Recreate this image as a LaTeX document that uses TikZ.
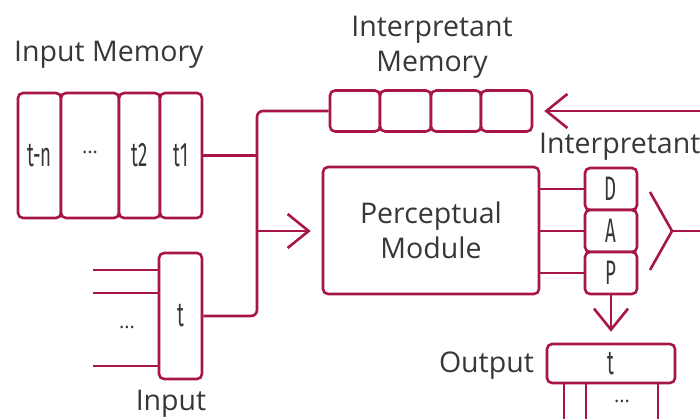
\documentclass[tikz,border=0pt]{standalone}
\usepackage{fontspec}
\setmainfont{Open Sans}
\newfontfamily\cellfont[FakeStretch=0.55]{Fira Sans}
\usetikzlibrary{arrows.meta}

\definecolor{wine}{RGB}{168,22,72}
\definecolor{ink}{RGB}{55,55,55}

\begin{document}
\begin{tikzpicture}[x=1pt,y=-1pt,
  cell/.style={draw=wine, line width=2.6pt, rounded corners=5pt, inner sep=0pt,
    fill=white, font=\cellfont\fontsize{34}{34}\selectfont, text=ink},
  dots/.style={font=\fontsize{20}{20}\selectfont, text=ink, inner sep=0pt},
  wire/.style={draw=wine, line width=2.6pt, rounded corners=6pt},
  barb/.style={-{Straight Barb[length=21pt,width=34pt,line width=2.6pt]}},
  caption/.style={font=\fontsize{28.5}{35}\selectfont, text=ink, inner sep=0pt, align=center}]

\useasboundingbox (0,0) rectangle (700,419);

% input memory
\node[cell, minimum width=43pt, minimum height=125pt] (tn) at (39.5,155.5) {t-n};
\node[cell, minimum width=58pt, minimum height=125pt] (tdots) at (90,155.5) {};
\node[dots] at (90,152) {...};
\node[cell, minimum width=41pt, minimum height=125pt] (t2) at (139.5,155.5) {t2};
\node[cell, minimum width=42pt, minimum height=125pt] (t1) at (181,155.5) {t1};
\node[caption, anchor=base west] (imlab) at (14,62) {Input Memory};

% current input
\node[cell, minimum width=43pt, minimum height=126pt] (tin) at (180.5,316) {t};
\node[caption, anchor=base] (inlab) at (171,410) {Input};
\coordinate (s1) at (93,270);
\coordinate (s2) at (93,293);
\coordinate (s3) at (93,366);
\node[dots] at (127,327) {...};
\draw[wire] (s1) -- (s1 -| tin.west);
\draw[wire] (s2) -- (s2 -| tin.west);
\draw[wire] (s3) -- (s3 -| tin.west);

% interpretant memory
\node[cell, minimum width=50pt, minimum height=41pt] (m1) at (355,111) {};
\node[cell, minimum width=51pt, minimum height=41pt] (m2) at (405.5,111) {};
\node[cell, minimum width=50pt, minimum height=41pt] (m3) at (456,111) {};
\node[cell, minimum width=51pt, minimum height=41pt] (m4) at (506.5,111) {};
\node[caption, anchor=base] (mlab) at (432,37) {Interpretant};
\node[caption, anchor=base] (mlab2) at (432,72) {Memory};

% perceptual module
\node[cell, font=\fontsize{28.5}{35}\selectfont, text=ink, align=center,
  minimum width=216pt, minimum height=127pt] (pm) at (431,230.5) {Perceptual\\Module};

% interpretant D / A / P
\node[cell, minimum width=52pt, minimum height=42pt] (D) at (611,189) {D};
\node[cell, minimum width=52pt, minimum height=42pt] (A) at (611,231) {A};
\node[cell, minimum width=52pt, minimum height=42pt] (P) at (611,273) {P};
\node[caption, anchor=base west] (ilab) at (539,154) {Interpretant};

% output
\node[cell, minimum width=128pt, minimum height=39pt] (out) at (611,363.5) {t};
\node[caption, anchor=base east] (olab) at (534,372) {Output};
\node[dots] at (622,401) {...};
\coordinate (o1) at (564,419);
\coordinate (o2) at (586,419);
\coordinate (o3) at (658,419);

% bus joining both memories and the input
\coordinate (busTop) at (257,111);
\coordinate (busBot) at (257,316);
\coordinate (busMid) at (257,231);
\draw[wire] (tin.east) -- (busBot) -- (busTop) -- (m1.west);
\draw[wire] (t1.east) -- (t1.east -| busTop);
\draw[wire, barb, shorten >=11pt] (busMid) -- (busMid -| pm.west);

% perceptual module to interpretant
\draw[wire] (D.west -| pm.east) -- (D.west);
\draw[wire] (A.west -| pm.east) -- (A.west);
\draw[wire] (P.west -| pm.east) -- (P.west);

% interpretant fork and feedback into memory
\coordinate (fork) at (672,231);
\coordinate (forkA) at (650,192);
\coordinate (forkB) at (650,270);
\coordinate (forkOut) at (702,231);
\coordinate (back) at (702,111);
\draw[wire, rounded corners=0pt, line join=miter] (forkA) -- (fork) -- (forkB);
\draw[wire] (fork) -- (forkOut);
\draw[wire, barb, shorten >=11pt] (back) -- (m4.east);

% interpretant to output
\draw[wire, barb, shorten >=11pt] (P.south) -- (out.north);
\draw[wire] (o1 |- out.south) -- (o1);
\draw[wire] (o2 |- out.south) -- (o2);
\draw[wire] (o3 |- out.south) -- (o3);
\end{tikzpicture}
\end{document}
